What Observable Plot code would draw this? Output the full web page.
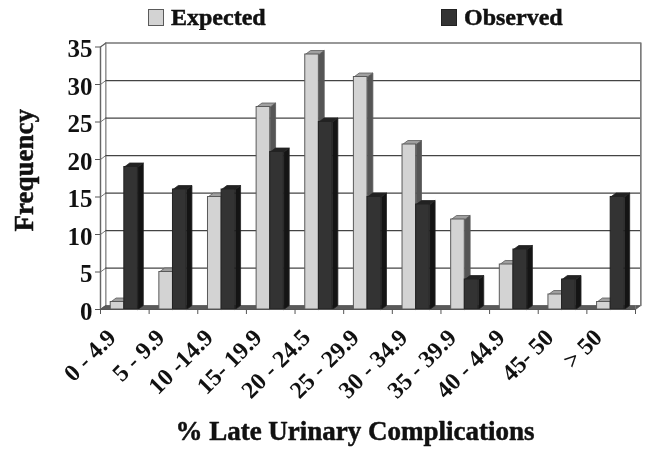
<!DOCTYPE html>
<html>
<head>
<meta charset="utf-8">
<script src="https://cdn.jsdelivr.net/npm/d3@7"></script>
<script src="https://cdn.jsdelivr.net/npm/@observablehq/plot@0.6"></script>
<style>
  html, body { margin: 0; padding: 0; background: #fff; }
  #legend { position: relative; height: 30px; font: bold 24px "Liberation Serif", serif; color: #111; filter: blur(0.35px); }
  #legend .item { position: absolute; top: 4px; line-height: 26px; white-space: nowrap; -webkit-text-stroke: 0.5px #111; }
  #legend .sw { display: inline-block; width: 16px; height: 17px; margin-right: 7px; box-sizing: border-box; border: 1.5px solid #555; vertical-align: -1px; }
  svg { display: block; filter: blur(0.35px); }
</style>
</head>
<body>
<div id="legend"></div>
<div id="chart"></div>
<script>
const categories = ["0 - 4.9", "5 - 9.9", "10 -14.9", "15- 19.9", "20 - 24.5", "25 - 29.9", "30 - 34.9", "35 - 39.9", "40 - 44.9", "45- 50", "> 50"];
const expected = [1, 5, 15, 27, 34, 31, 22, 12, 6, 2, 1];
const observed = [19, 16, 16, 21, 25, 15, 14, 4, 8, 4, 15];
const yTicks = [0, 5, 10, 15, 20, 25, 30, 35];

const seriesStyle = [
  {name: "Expected", values: expected, front: "#d3d3d3", side: "#555555", top: "#a0a0a0", stroke: "#5a5a5a", offset: 0.21, legendX: 148},
  {name: "Observed", values: observed, front: "#333333", side: "#141414", top: "#222222", stroke: "#222222", offset: 0.49, legendX: 441}
];
const barW = 0.28, depthX = 0.11, depthY = 0.53;
const nCat = categories.length, yMax = 35;

const legend = d3.select("#legend");
for (const s of seriesStyle) {
  const it = legend.append("div").attr("class", "item").style("left", s.legendX + "px");
  it.append("span").attr("class", "sw").style("background", s.front).style("border-color", s.stroke);
  it.append("span").text(s.name);
}

// polygons in data space (x = category position, y = frequency)
const poly = (id, pts) => pts.concat([pts[0]]).map(([x, y]) => ({id, x, y}));
const sideFaces = (s) => s.values.flatMap((v, i) => {
  const r = i + s.offset + barW;
  return poly(i, [[r, 0], [r + depthX, depthY], [r + depthX, v + depthY], [r, v]]);
});
const topFaces = (s) => s.values.flatMap((v, i) => {
  const l = i + s.offset, r = l + barW;
  return poly(i, [[l, v], [l + depthX, v + depthY], [r + depthX, v + depthY], [r, v]]);
});
const polyMark = (rows, fill, stroke, sw = 0.8) =>
  Plot.line(rows, {x: "x", y: "y", z: "id", fill, stroke, strokeWidth: sw, curve: "linear"});

const floor = poly("floor", [[0, 0], [depthX, depthY], [nCat + depthX, depthY], [nCat, 0]]);
const leftWall = poly("wall", [[0, 0], [depthX, depthY], [depthX, yMax + depthY], [0, yMax]]);
const rightEdge = poly("edge", [[nCat + depthX, depthY], [nCat + depthX, yMax + depthY], [depthX, yMax + depthY]]).slice(0, 3);
const wallJoins = yTicks.flatMap(v => [{id: v, x: 0, y: v}, {id: v, x: depthX, y: v + depthY}]);
const boundaries = d3.range(nCat + 1);
const centers = d3.range(nCat).map(i => i + 0.5);

const barMarks = seriesStyle.flatMap(s => {
  const rows = s.values.map((v, i) => ({i, v}));
  return [
    polyMark(sideFaces(s), s.side, s.stroke),
    polyMark(topFaces(s), s.top, s.stroke),
    Plot.rect(rows, {x1: d => d.i + s.offset, x2: d => d.i + s.offset + barW, y1: 0, y2: "v",
      fill: s.front, stroke: s.stroke, strokeWidth: 1})
  ];
});

const heavy = {fill: "#111", stroke: "#111", strokeWidth: 0.5, paintOrder: "normal"};

const chart = Plot.plot({
  width: 650, height: 423,
  marginLeft: 100, marginRight: 15, marginTop: 16.5, marginBottom: 144,
  x: {type: "linear", domain: [0, nCat]},
  y: {type: "linear", domain: [0, yMax]},
  style: {fontFamily: "'Liberation Serif', serif", fontWeight: "bold", color: "#111", background: "#fff"},
  marks: [
    polyMark(leftWall, "#fff", "#777", 1.2),
    Plot.ruleY(yTicks.filter(v => v > 0 && v < yMax), {y: v => v + depthY, x1: depthX, x2: nCat + depthX, stroke: "#444", strokeWidth: 1.3}),
    polyMark(floor, "#5a5a5a", "#555"),
    Plot.line(rightEdge, {x: "x", y: "y", stroke: "#777", strokeWidth: 1.6}),
    Plot.line(wallJoins, {x: "x", y: "y", z: "id", stroke: "#555", strokeWidth: 0.8}),
    Plot.ruleX([nCat], {y1: 0, y2: depthY, stroke: "#777"}),
    ...barMarks,
    Plot.ruleX([0], {y1: 0, y2: yMax, stroke: "#666", strokeWidth: 1.3}),
    Plot.ruleY([0], {x1: 0, x2: nCat, stroke: "#555", strokeWidth: 1.2}),
    Plot.axisY({ticks: yTicks, tickSize: 5, tickFormat: () => "", stroke: "#555", label: null}),
    Plot.axisY({ticks: yTicks, tickSize: 0, tickPadding: 8, fontSize: 25, dy: 2, label: null, tickFormat: d => d}),
    Plot.axisX({ticks: boundaries, tickSize: 5, tickFormat: () => "", stroke: "#555", label: null}),
    Plot.axisX({ticks: centers, tickSize: 0, tickPadding: 24, tickRotate: -45, fontSize: 24, dx: -13, label: null,
      tickFormat: d => categories[Math.floor(d)]}),
    Plot.text(["Frequency"], {frameAnchor: "left", textAnchor: "middle", rotate: -90, dx: -76, dy: -8, fontSize: 27, text: d => d, ...heavy}),
    Plot.text(["% Late Urinary Complications"], {frameAnchor: "bottom", dx: -13, dy: 122, fontSize: 27, lineAnchor: "middle", text: d => d, ...heavy})
  ]
});
document.getElementById("chart").append(chart);
</script>
</body>
</html>
